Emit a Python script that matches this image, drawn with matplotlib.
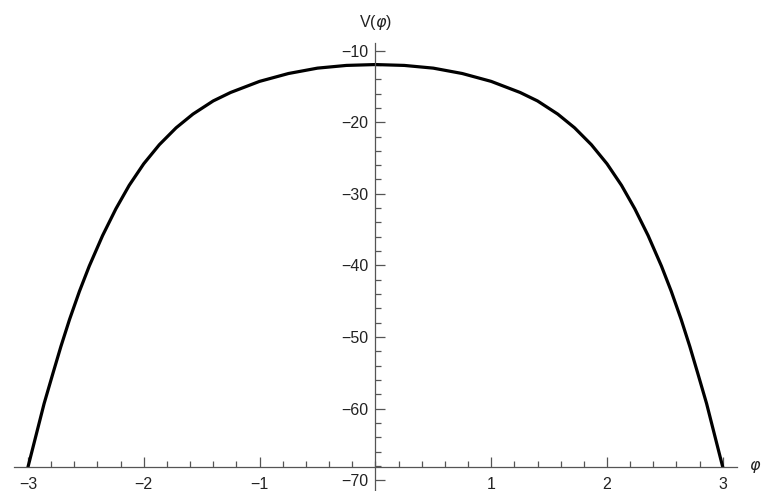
import numpy as np
import matplotlib
matplotlib.use('Agg')
import matplotlib.pyplot as plt
from matplotlib.ticker import MultipleLocator

# V(phi) for phi >= 0; the potential is even, so the left half is the mirror image
phi_half = [0.0, 0.25, 0.5, 0.75, 1.0, 1.25, 1.4, 1.575, 1.72, 1.865,
            2.0, 2.125, 2.24, 2.355, 2.47, 2.555, 2.64, 2.715, 2.785,
            2.86, 2.93, 3.0]
V_half = [-11.95, -12.07, -12.45, -13.2, -14.3, -15.85, -17.03, -18.87, -20.78, -23.14,
          -25.81, -28.81, -32.09, -35.83, -40.09, -43.62, -47.53, -51.32, -55.14,
          -59.3, -63.75, -68.2]

x_ticks = [-3, -2, -1, 1, 2, 3]
y_ticks = [-10, -20, -30, -40, -50, -60, -70]
axis_y = -68.2

phi = [-p for p in phi_half[:0:-1]] + phi_half
V = V_half[:0:-1] + V_half

plt.rcParams['font.family'] = ['Liberation Sans', 'DejaVu Sans']

fig = plt.figure(figsize=(7.64, 4.91), dpi=100)
ax = fig.add_axes([0.0183, 0.0, 0.946, 0.913])
ax.set_xlim(-3.12, 3.12)
ax.set_ylim(-71.5, -8.9)

ax.plot(phi, V, color='black', lw=2.3, solid_capstyle='butt',
        solid_joinstyle='round', clip_on=False)

for side in ('top', 'right'):
    ax.spines[side].set_visible(False)
ax.spines['left'].set_position(('data', 0))
ax.spines['bottom'].set_position(('data', axis_y))
for side in ('left', 'bottom'):
    ax.spines[side].set_color('#555555')
    ax.spines[side].set_linewidth(0.9)

ax.set_xticks(x_ticks)
ax.set_yticks(y_ticks)
ax.set_yticklabels(['\u2212%d' % abs(t) for t in y_ticks])
ax.set_xticklabels([('\u2212%d' % abs(t)) if t < 0 else str(t) for t in x_ticks])
ax.xaxis.set_minor_locator(MultipleLocator(0.2))
ax.yaxis.set_minor_locator(MultipleLocator(2))
ax.tick_params(which='both', direction='in', color='#555555', width=0.9,
               labelsize=11.5, labelcolor='#222222')
ax.tick_params(which='major', length=7, pad=5)
ax.tick_params(which='minor', length=4.5)
ax.tick_params(axis='x', which='major', pad=7)

ax.annotate(r'V($\varphi$)', xy=(0, 1), xycoords=('data', 'axes fraction'),
            xytext=(0, 8), textcoords='offset points', ha='center', va='bottom',
            fontsize=11.5, color='#222222', annotation_clip=False)
ax.annotate(r'$\varphi$', xy=(1, axis_y), xycoords=('axes fraction', 'data'),
            xytext=(13, 0), textcoords='offset points', ha='center', va='center',
            fontsize=11.5, color='#222222', annotation_clip=False)

fig.savefig('out.png', dpi=100)
